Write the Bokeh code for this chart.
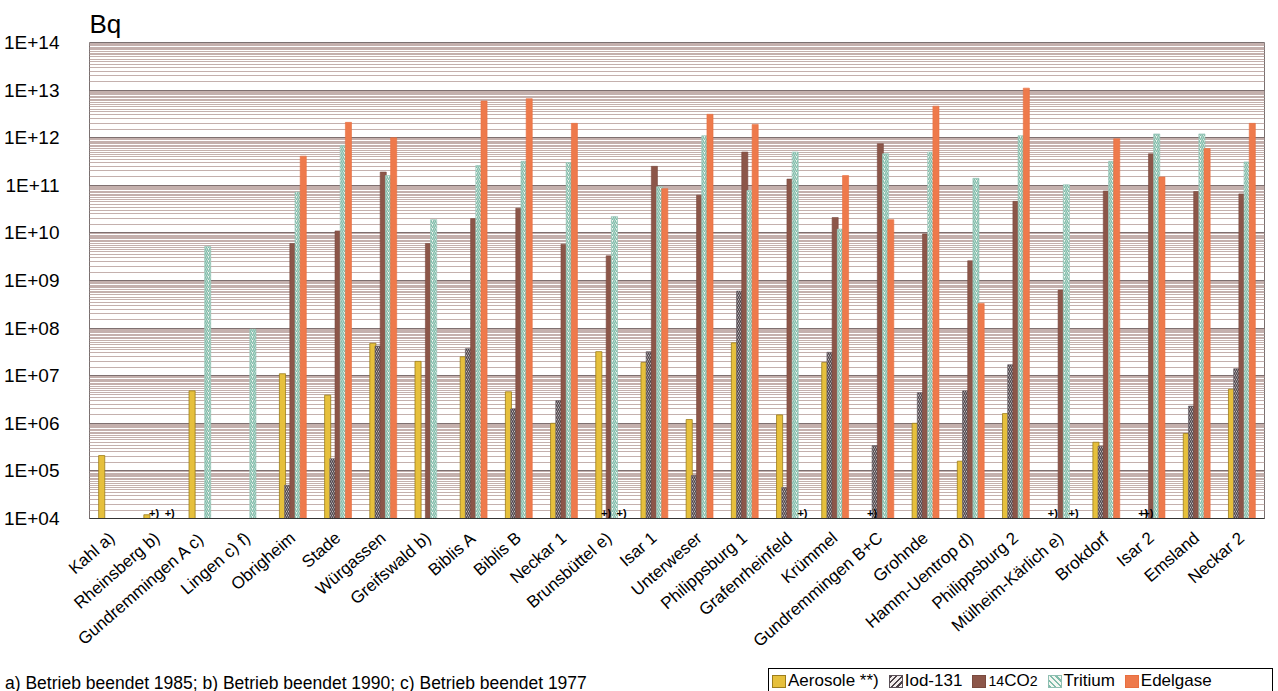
import math
from bokeh.plotting import figure
from bokeh.layouts import column
from bokeh.models import ColumnDataSource, FactorRange, Range1d, FixedTicker, Div
from bokeh.transform import dodge
from bokeh.core.properties import value
from bokeh.embed import file_html
from bokeh.resources import INLINE

nan = float("nan")

# Nuclear power plants (annual discharge with exhaust air, Bq)
plants = ["Kahl a)", "Rheinsberg b)", "Gundremmingen A c)", "Lingen c) f)",
          "Obrigheim", "Stade", "Würgassen", "Greifswald b)", "Biblis A",
          "Biblis B", "Neckar 1", "Brunsbüttel e)", "Isar 1", "Unterweser",
          "Philippsburg 1", "Grafenrheinfeld", "Krümmel", "Gundremmingen B+C",
          "Grohnde", "Hamm-Uentrop d)", "Philippsburg 2", "Mülheim-Kärlich e)",
          "Brokdorf", "Isar 2", "Emsland", "Neckar 2"]

aerosole = [2.1e5, 1.2e4, 4.8e6, nan, 1.1e7, 3.9e6, 4.8e7, 2.0e7, 2.5e7, 4.6e6,
            1.0e6, 3.2e7, 1.9e7, 1.2e6, 4.9e7, 1.5e6, 1.9e7, nan, 1.0e6, 1.6e5,
            1.6e6, nan, 4.0e5, nan, 6.1e5, 5.2e6]
iod131 = [nan, nan, nan, nan, 5.0e4, 1.8e5, 4.2e7, nan, 3.7e7, 2.0e6,
          3.0e6, nan, 3.2e7, 8.0e4, 6.0e8, 4.5e4, 3.1e7, 3.4e5, 4.4e6, 4.8e6,
          1.7e7, nan, 3.3e5, nan, 2.3e6, 1.4e7]
co2_14 = [nan, nan, nan, nan, 6.0e9, 1.1e10, 1.9e11, 6.0e9, 2.0e10, 3.3e10,
          5.8e9, 3.3e9, 2.5e11, 6.2e10, 5.0e11, 1.35e11, 2.1e10, 7.5e11, 9.5e9, 2.6e9,
          4.6e10, 6.3e8, 7.6e10, 4.6e11, 7.4e10, 6.6e10]
tritium = [nan, nan, 5.2e9, 9.5e7, 7.2e10, 6.9e11, 1.6e11, 1.9e10, 2.6e11, 3.2e11,
           3.0e11, 2.2e10, 9.3e10, 1.1e12, 7.8e10, 5.0e11, 1.2e10, 4.6e11, 5.0e11, 1.4e11,
           1.1e12, 1.03e11, 3.2e11, 1.2e12, 1.2e12, 3.1e11]
edelgase = [nan, nan, nan, nan, 4.1e11, 2.1e12, 1.0e12, nan, 5.9e12, 6.6e12,
            2.0e12, nan, 8.5e10, 3.1e12, 1.9e12, nan, 1.6e11, 1.9e10, 4.6e12, 3.3e8,
            1.1e13, nan, 9.5e11, 1.5e11, 5.9e11, 2.0e12]

# "+)" footnote marks: (plant, nuclide group)
marks = [("Rheinsberg b)", "iod"), ("Rheinsberg b)", "edel"),
         ("Brunsbüttel e)", "iod"), ("Brunsbüttel e)", "edel"),
         ("Grafenrheinfeld", "edel"),
         ("Gundremmingen B+C", "aero"),
         ("Mülheim-Kärlich e)", "aero"), ("Mülheim-Kärlich e)", "edel"),
         ("Isar 2", "aero"), ("Isar 2", "iod")]

y_ticks = [10.0 ** n for n in range(4, 15)]
y_tick_labels = ["1E+%02d" % n for n in range(4, 15)]
footnote = "a) Betrieb beendet 1985; b) Betrieb beendet 1990; c) Betrieb beendet 1977"

FONT = "Liberation Sans"
W = 1278

p = figure(width=W, height=663, x_range=FactorRange(*plants),
           y_range=Range1d(1e4, 1e14), y_axis_type="log",
           output_backend="svg", toolbar_location=None,
           min_border_left=89, min_border_right=14, min_border_top=42,
           min_border_bottom=145)
p.background_fill_color = "white"
p.border_fill_color = "white"
p.outline_line_color = "#7a7070"
p.outline_line_width = 1

p.title.text = "Bq"
p.title.text_font = FONT
p.title.text_font_size = "26px"
p.title.text_font_style = "normal"
p.title.text_color = "black"
p.title.align = "left"
p.title.standoff = 8

# log grid: decade lines plus dense minor lines (half steps)
minor = [k * 10.0 ** n for n in range(4, 14)
         for k in (1.5, 2, 2.5, 3, 3.5, 4, 4.5, 5, 5.5, 6, 6.5, 7, 7.5, 8, 8.5, 9, 9.5)]
ticker = FixedTicker(ticks=y_ticks, minor_ticks=minor)
p.yaxis.ticker = ticker
p.yaxis.major_label_overrides = {t: s for t, s in zip(y_ticks, y_tick_labels)}
p.yaxis.major_label_text_font = FONT
p.yaxis.major_label_text_font_size = "19px"
p.yaxis.major_label_text_color = "black"
p.yaxis.major_label_standoff = 24
p.yaxis.axis_line_color = None
p.yaxis.major_tick_line_color = None
p.yaxis.minor_tick_line_color = None

p.ygrid.ticker = ticker
p.ygrid.grid_line_color = "#7f7070"
p.ygrid.grid_line_width = 1
p.ygrid.minor_grid_line_color = "#c4b0ad"
p.ygrid.minor_grid_line_width = 1
p.xgrid.grid_line_color = None

p.xaxis.axis_line_color = "#333333"
p.xaxis.major_tick_line_color = None
p.xaxis.major_label_orientation = math.radians(41)
p.xaxis.major_label_text_font = FONT
p.xaxis.major_label_text_font_size = "17px"
p.xaxis.major_label_text_color = "black"
p.xaxis.major_label_standoff = 11

series = [
    ("aero", "Aerosole **)", aerosole, -0.23,
     dict(fill_color="#e6c03c", line_color="#9c7d1c", line_width=0.8)),
    ("iod", "Iod-131", iod131, -0.115,
     dict(fill_color="#f1ecec", line_color="#5a5058", line_width=0.6,
          hatch_pattern="\\", hatch_color="#4b4248", hatch_scale=4, hatch_weight=1.4)),
    ("co2", "<sup>14</sup>CO<sub>2</sub>", co2_14, 0.0,
     dict(fill_color="#8c5649", line_color="#7a4a3f", line_width=0.6)),
    ("trit", "Tritium", tritium, 0.115,
     dict(fill_color="#f4f7f2", line_color="#8fbfb2", line_width=0.6,
          hatch_pattern="/", hatch_color="#7fbcaa", hatch_scale=4, hatch_weight=1.4)),
    ("edel", "Edelgase", edelgase, 0.23,
     dict(fill_color="#ee7a4c", line_color="#e86f40", line_width=0.6)),
]

offsets = {}
for key, label, vals, off, style in series:
    offsets[key] = off
    src = ColumnDataSource(dict(plant=plants, top=vals, bottom=[1e4] * len(plants)))
    p.vbar(x=dodge("plant", off, range=p.x_range), top="top", bottom="bottom",
           width=0.135, source=src, **style)

# "+)" marks at the base of the chart
for key in ("aero", "iod", "edel"):
    names = [m[0] for m in marks if m[1] == key]
    src = ColumnDataSource(dict(plant=names, y=[1e4] * len(names), t=["+)"] * len(names)))
    p.text(x=dodge("plant", offsets[key], range=p.x_range), y="y", text="t", source=src,
           text_font=value(FONT), text_font_size="11px", text_font_style="bold",
           text_align="left", text_baseline="bottom", x_offset=-3, y_offset=0,
           text_color="black")


# legend swatches styled like the bars
def swatch(style):
    fill = style["fill_color"]
    edge = style["line_color"]
    if "hatch_pattern" in style:
        ang = "45deg" if style["hatch_pattern"] == "/" else "135deg"
        hc = style["hatch_color"]
        bg = "repeating-linear-gradient(%s, %s 0px, %s 1.6px, %s 1.6px, %s 4px)" % (
            ang, hc, hc, fill, fill)
    else:
        bg = fill
    return ('<span style="display:inline-block;width:12px;height:11px;'
            'background:%s;border:1px solid %s;margin:0 2px 0 0;"></span>' % (bg, edge))


legend_html = "".join(
    '<span style="display:inline-flex;align-items:center;margin-right:%s;">%s%s</span>'
    % ("0" if i == len(series) - 1 else "10px", swatch(s[4]), s[1])
    for i, s in enumerate(series))

strip_html = (
    '<div style="position:relative;width:%dpx;height:28px;font-family:\'%s\';color:black;">'
    '<div style="position:absolute;left:0px;top:3px;font-size:17.5px;white-space:nowrap;">%s</div>'
    '<div style="position:absolute;left:763px;top:0px;width:500px;height:25px;'
    'border:1px solid black;background:white;display:flex;align-items:center;'
    'padding-left:3px;box-sizing:content-box;font-size:17px;white-space:nowrap;">%s</div>'
    '</div>' % (W, FONT, footnote, legend_html))

strip = Div(text=strip_html, width=W, height=28)

open("out.html", "w").write(file_html(column(p, strip), INLINE))
